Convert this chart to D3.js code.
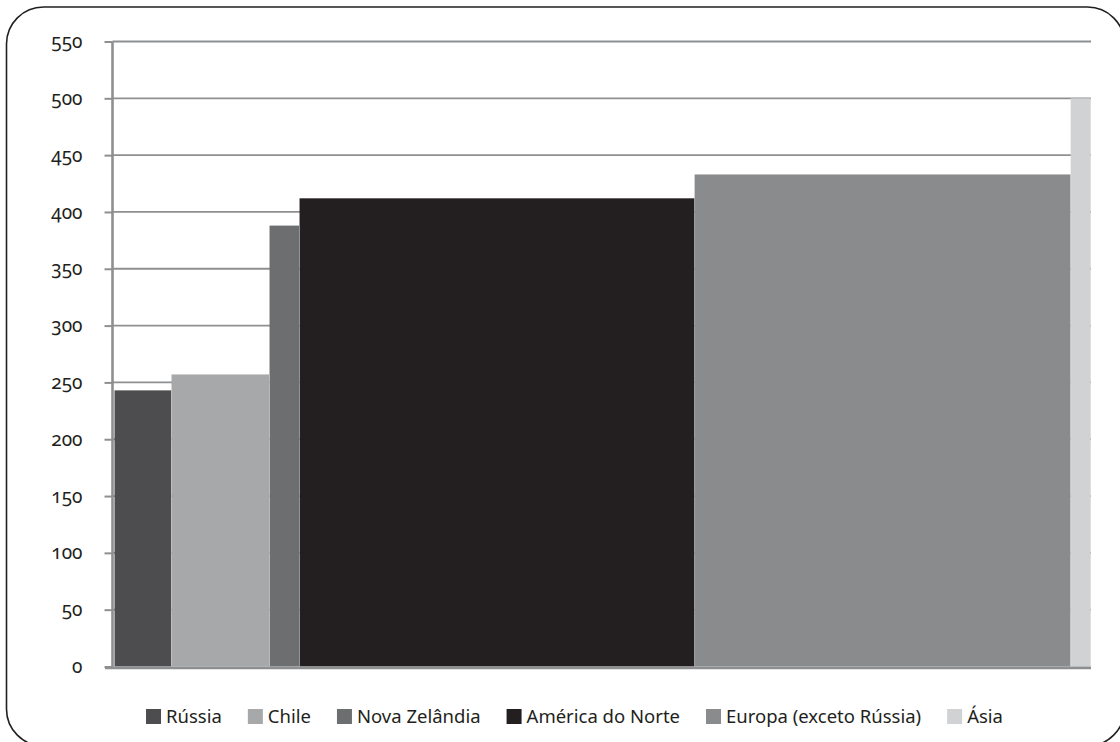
<!DOCTYPE html>
<html>
<head>
<meta charset="utf-8">
<script src="https://cdn.jsdelivr.net/npm/d3@7"></script>
<style>
  html, body { margin: 0; padding: 0; background: #fff; }
  svg { display: block; }
  .tick-label { font-family: "Noto Sans", "Open Sans", sans-serif; font-size: 19px; font-weight: 400; fill: #231f20; font-variant-numeric: oldstyle-nums; font-feature-settings: "onum" 1; }
  .legend-label { font-family: "Noto Sans", "Open Sans", sans-serif; font-size: 18.5px; font-weight: 400; fill: #231f20; }
</style>
</head>
<body>
<svg id="chart" width="1120" height="742"></svg>
<script>
// Regions, in drawing order
const regions = ["Rússia", "Chile", "Nova Zelândia", "América do Norte", "Europa (exceto Rússia)", "Ásia"];
// Bar heights (vertical axis values)
const values = [243, 257, 388, 412, 433, 500];
// Relative bar widths (horizontal share of each region)
const shares = [57, 98, 30, 395, 376, 20];
// Fill for each region
const colors = ["#4d4d4f", "#a7a8aa", "#6d6e70", "#231f20", "#8a8b8d", "#d1d2d4"];
// Vertical axis ticks
const yTicks = [0, 50, 100, 150, 200, 250, 300, 350, 400, 450, 500, 550];

const svg = d3.select("#chart");

const plot = { left: 112.5, right: 1091, top: 41.5, bottom: 666.5 };

// Outer rounded frame (extends past the canvas on the right and bottom)
svg.append("rect")
  .attr("x", 6.5).attr("y", 7)
  .attr("width", 1118).attr("height", 739)
  .attr("rx", 37).attr("ry", 37)
  .attr("fill", "none")
  .attr("stroke", "#231f20")
  .attr("stroke-width", 1.6);

const y = d3.scaleLinear().domain([0, 550]).range([plot.bottom, plot.top]);

const cum = d3.cumsum(shares);
const starts = [0, ...cum.slice(0, -1)];
const x = d3.scaleLinear().domain([0, cum[cum.length - 1]]).range([114.5, 1090.7]);

// Horizontal gridlines (behind the bars)
svg.append("g")
  .selectAll("line")
  .data(yTicks.filter(d => d > 0))
  .join("line")
  .attr("x1", plot.left).attr("x2", plot.right)
  .attr("y1", d => y(d)).attr("y2", d => y(d))
  .attr("stroke", "#8e8f91")
  .attr("stroke-width", 1.8);

// Variable-width bars
const bars = regions.map((r, i) => ({ region: r, value: values[i], x0: starts[i], x1: cum[i], color: colors[i] }));
svg.append("g")
  .selectAll("rect")
  .data(bars)
  .join("rect")
  .attr("x", d => x(d.x0))
  .attr("width", d => x(d.x1) - x(d.x0))
  .attr("y", d => y(d.value))
  .attr("height", d => y(0) - y(d.value))
  .attr("fill", d => d.color);

// Thin light separators at bar boundaries
svg.append("g")
  .selectAll("line")
  .data(bars.slice(1))
  .join("line")
  .attr("x1", d => x(d.x0)).attr("x2", d => x(d.x0))
  .attr("y1", (d, i) => y(Math.min(d.value, bars[i].value)))
  .attr("y2", y(0))
  .attr("stroke", "#ffffff")
  .attr("stroke-opacity", 0.35)
  .attr("stroke-width", 0.8);

// Left axis
const yAxis = d3.axisLeft(y).tickValues(yTicks).tickSize(8).tickPadding(22).tickFormat(d3.format("d"));
const gy = svg.append("g").attr("transform", `translate(${plot.left},0)`).call(yAxis);
gy.select(".domain").attr("stroke", "#8e8f91").attr("stroke-width", 2.6)
  .attr("d", `M0,${plot.top}V${plot.bottom + 2}`);
gy.selectAll(".tick line").attr("stroke", "#8e8f91").attr("stroke-width", 2);
gy.selectAll(".tick text").attr("class", "tick-label").attr("font-family", null).attr("font-size", null).attr("fill", null);

// Baseline
svg.append("line")
  .attr("x1", 105).attr("x2", plot.right)
  .attr("y1", y(0) + 1.3).attr("y2", y(0) + 1.3)
  .attr("stroke", "#8e8f91")
  .attr("stroke-width", 2.8);

// Legend
const legend = svg.append("g");
const items = legend.selectAll("g")
  .data(bars)
  .join("g");
items.append("rect")
  .attr("width", 15).attr("height", 15)
  .attr("y", 709)
  .attr("fill", d => d.color);
items.append("text")
  .attr("class", "legend-label")
  .attr("x", 20)
  .attr("y", 723)
  .text(d => d.region);

let cx = 0;
const gap = 26;
items.each(function () {
  const w = 20 + this.querySelector("text").getComputedTextLength();
  d3.select(this).attr("transform", `translate(${cx},0)`);
  cx += w + gap;
});
const totalW = cx - gap;
legend.attr("transform", `translate(${574.5 - totalW / 2},0)`);
</script>
</body>
</html>
